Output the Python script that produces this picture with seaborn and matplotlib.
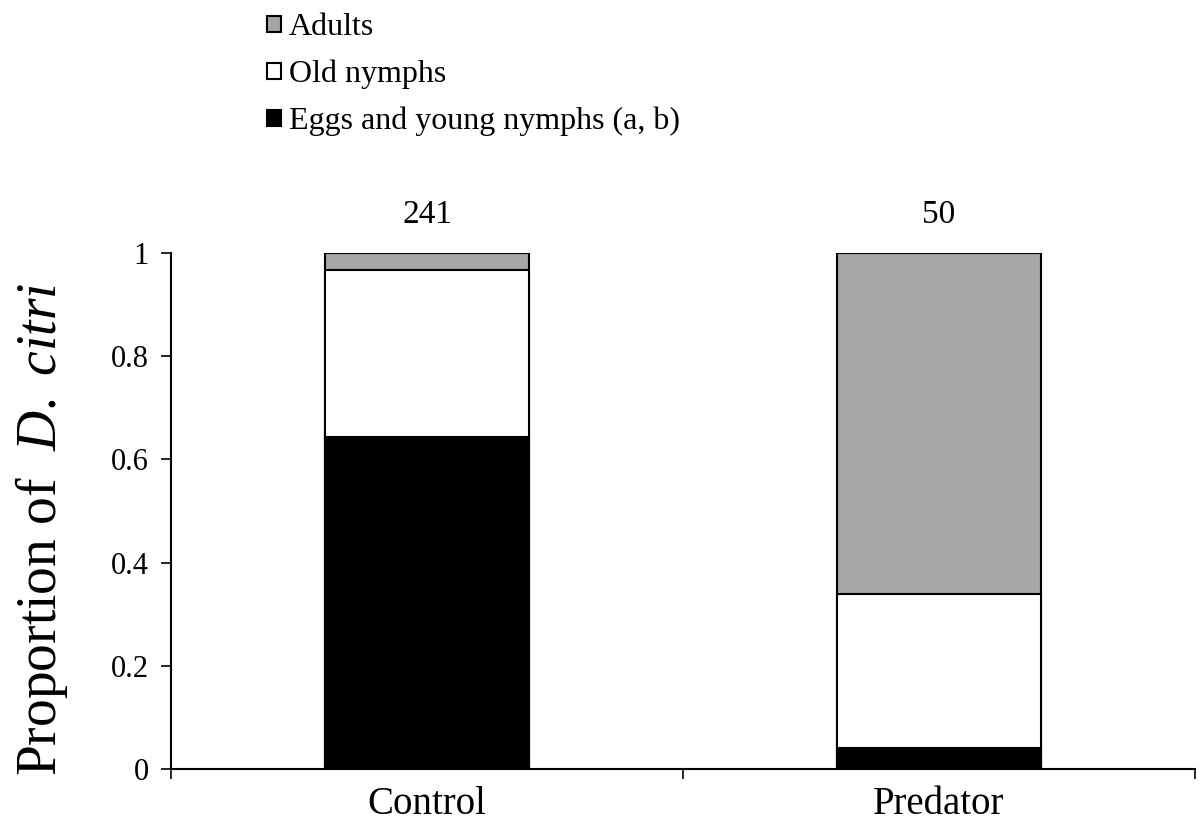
import numpy as np
import pandas as pd
import seaborn as sns
import matplotlib.pyplot as plt
from matplotlib.patches import Patch

# data
groups = ["Control", "Predator"]
n_counts = ["241", "50"]
eggs_young = [0.643, 0.04]
old_nymphs = [0.324, 0.30]
adults = [0.033, 0.66]

layer_names = ["Adults", "Old nymphs", "Eggs and young nymphs (a, b)"]
layer_colors = ["#a6a6a6", "#ffffff", "#000000"]

sns.set_style("white")
plt.rcParams['font.family'] = ['Liberation Serif', 'DejaVu Serif']
plt.rcParams['mathtext.fontset'] = 'custom'
plt.rcParams['mathtext.rm'] = 'Liberation Serif'
plt.rcParams['mathtext.it'] = 'Liberation Serif:italic'
plt.rcParams['text.color'] = 'black'
plt.rcParams['axes.labelcolor'] = 'black'
plt.rcParams['xtick.color'] = 'black'
plt.rcParams['ytick.color'] = 'black'

df = pd.DataFrame({"group": groups, "eggs": eggs_young, "old": old_nymphs, "adults": adults})
df["cum_eggs"] = df["eggs"]
df["cum_old"] = df["eggs"] + df["old"]
df["cum_all"] = df["cum_old"] + df["adults"]

fig = plt.figure(figsize=(12.02, 8.31), dpi=100)
ax = fig.add_axes([171/1202, 62/831, 1024/1202, 516/831])

# stacked bars: draw cumulative heights from the top layer down
for col, c in zip(["cum_all", "cum_old", "cum_eggs"], layer_colors):
    sns.barplot(data=df, x="group", y=col, color=c, edgecolor="black",
                linewidth=1.5, width=0.4, saturation=1, ax=ax, errorbar=None)

ax.set_xlim(-0.5, 1.5)
ax.set_ylim(0, 1)
ax.set_yticks([0, 0.2, 0.4, 0.6, 0.8, 1])
ax.set_yticklabels(["0", "0.2", "0.4", "0.6", "0.8", "1"], fontsize=22)
ax.set_xticks([0, 1])
ax.set_xticklabels(groups, fontsize=28)
ax.set_xticks([-0.5, 0.5, 1.5], minor=True)
ax.tick_params(axis="x", which="major", bottom=True, length=0, pad=12)
ax.tick_params(axis="x", which="minor", bottom=True, length=7, width=1.2, direction="out")
ax.tick_params(axis="y", left=True, length=7, width=1.2, direction="out", pad=9)
ax.set_xlabel("")
ax.set_ylabel(r"Proportion of  $\mathit{D.\ citri}$", fontsize=40)
ax.yaxis.set_label_coords(-0.099, 0.465)

for side in ["top", "right"]:
    ax.spines[side].set_visible(False)
for side in ["left", "bottom"]:
    ax.spines[side].set_color("black")
    ax.spines[side].set_linewidth(1.5)

for i, n in enumerate(n_counts):
    ax.text(i, 1.074, n, ha="center", va="center", fontsize=24, clip_on=False)

handles = [Patch(facecolor=c, edgecolor="black", linewidth=1.5) for c in layer_colors]
fig.legend(handles, layer_names, loc="upper left", bbox_to_anchor=(264/1202, 1 - 10/831),
           frameon=False, fontsize=23, handlelength=0.42, handleheight=0.42,
           handletextpad=0.25, labelspacing=0.55, borderaxespad=0, borderpad=0.1)

fig.savefig("out.png", dpi=100)
